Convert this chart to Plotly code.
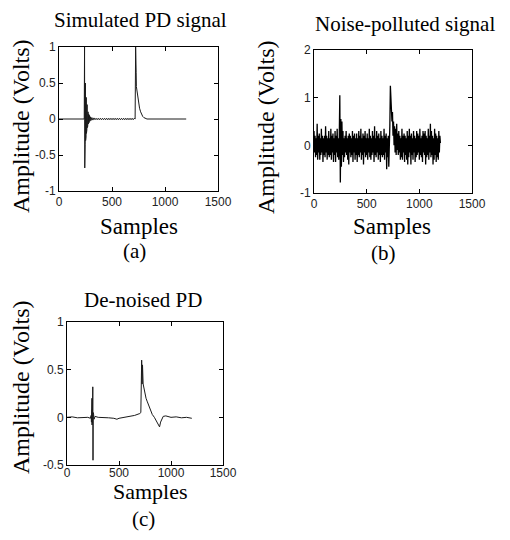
import plotly.graph_objects as go

# ---------------- data ----------------
ticks_x = [0, 500, 1000, 1500]
ticks_a = [-1, -0.5, 0, 0.5, 1]
ticks_b = [-1, 0, 1, 2]
ticks_c = [-0.5, 0, 0.5, 1]

sim_x = [0, 238, 241, 243, 245, 247, 249, 251, 253, 255, 257, 259, 261, 263, 265,
         267, 269, 271, 274, 277, 280, 284, 288, 292, 297, 302, 310, 320, 330,
         340, 350, 360, 370, 380, 390, 400, 410, 420, 430, 440, 450, 460, 470,
         480, 490, 500, 510, 520, 530, 540, 550, 560, 570, 580, 590, 600, 610,
         620, 630, 640, 650, 660, 670, 680, 690, 700, 710, 718,
         723, 726, 728, 730, 735, 740, 745, 750, 760, 770, 780, 790, 800, 815, 830, 1200]
sim_y = [0, 0, 1.0, -0.68, 0.55, -0.35, 0.5, -0.3, 0.4, -0.25, 0.3, -0.2, 0.25, -0.15, 0.2,
         -0.12, 0.15, -0.1, 0.1, -0.07, 0.07, -0.05, 0.05, -0.03, 0.03, -0.02, 0.02, -0.015, 0.015,
         -0.01, 0.01, -0.01, 0.01, -0.01, 0.01, -0.01, 0.01, -0.01, 0.01, -0.01, 0.01, -0.01, 0.01,
         -0.01, 0.01, -0.01, 0.01, -0.01, 0.01, -0.01, 0.01, -0.01, 0.01, -0.01, 0.01, -0.01, 0.01,
         -0.01, 0.01, -0.01, 0.01, -0.01, 0.01, -0.01, 0.01, -0.01, 0.01, 0,
         1.0, 0.5, 0.65, 0.45, 0.4, 0.33, 0.27, 0.22, 0.15, 0.1, 0.06, 0.035, 0.02, 0.01, 0, 0]

noisy_x = list(range(0, 1205, 5))
noisy_y = [
    0.3, -0.15, 0.2, -0.25, 0.15, -0.2, 0.45, -0.3, 0.2, -0.15,
    0.25, -0.3, 0.15, -0.2, 0.35, -0.15, 0.2, -0.35, 0.15, -0.2,
    0.2, -0.25, 0.4, -0.15, 0.2, -0.3, 0.15, -0.2, 0.3, -0.25,
    0.15, -0.2, 0.35, -0.3, 0.2, -0.15, 0.25, -0.35, 0.15, -0.2,
    0.3, -0.35, 0.2, -0.15, 0.35, -0.25, 0.15, -0.3, 0.2, 1.05,
    -0.78, 0.55, -0.45, 0.5, -0.2, 0.3, -0.35, 0.15, -0.25, 0.2,
    -0.15, 0.3, -0.2, 0.15, -0.3, 0.2, -0.4, 0.25, -0.15, 0.2,
    -0.25, 0.15, -0.2, 0.3, -0.35, 0.2, -0.15, 0.25, -0.3, 0.15,
    -0.2, 0.25, -0.35, 0.15, -0.2, 0.3, -0.25, 0.2, -0.15, 0.35,
    -0.3, 0.15, -0.2, 0.25, -0.4, 0.2, -0.15, 0.3, -0.25, 0.15,
    -0.2, 0.25, -0.3, 0.15, -0.15, 0.35, -0.25, 0.2, -0.3, 0.15,
    -0.2, 0.3, -0.15, 0.2, -0.35, 0.4, -0.2, 0.15, -0.25, 0.3,
    -0.15, 0.2, -0.3, 0.25, -0.2, 0.15, -0.35, 0.3, -0.2, 0.2,
    -0.25, 0.15, -0.2, 0.35, -0.3, 0.2, -0.15, 0.25, -0.5, 0.15,
    -0.25, 0.2, -0.45, -0.1, 0.4, 1.25, 0.8, 0.95, 0.5, 0.7,
    0.2, 0.5, 0.0, 0.4, -0.15, 0.35, -0.2, 0.45, -0.1, 0.25,
    -0.2, 0.3, -0.15, 0.2, -0.3, 0.15, -0.25, 0.35, -0.3, 0.2,
    -0.15, 0.25, -0.35, 0.2, -0.2, 0.15, -0.3, 0.3, -0.4, 0.2,
    -0.25, 0.35, -0.15, 0.2, -0.4, 0.25, -0.2, 0.15, -0.3, 0.3,
    -0.15, 0.2, -0.35, 0.15, -0.25, 0.3, -0.2, 0.25, -0.15, 0.2,
    -0.3, 0.35, -0.2, 0.15, -0.25, 0.2, -0.35, 0.3, -0.15, 0.25,
    -0.2, 0.3, -0.4, 0.2, -0.25, 0.15, -0.2, 0.35, -0.3, 0.2,
    -0.15, 0.45, -0.25, 0.3, -0.2, 0.2, -0.4, 0.15, -0.3, 0.35,
    -0.2, 0.25, -0.35, 0.2, -0.25, 0.15, -0.3, 0.3, -0.15, 0.2,
    0.05,
]

den_x = [0, 50, 100, 150, 200, 225, 232, 235, 237, 239, 240, 241, 243, 245, 247, 248,
         250, 252, 254, 256, 260, 270, 300, 350, 400, 450, 480, 500, 550, 600, 650,
         700, 710, 718, 722, 726, 732, 740, 750, 760, 770, 780, 790, 800, 820, 840,
         860, 880, 890, 900, 910, 925, 950, 1000, 1050, 1100, 1150, 1200]
den_y = [0, 0.005, -0.005, 0.0, 0.0, -0.01, 0.02, -0.05, 0.1, -0.06, 0.2, -0.08, 0.08, -0.06, 0.05, 0.32,
         -0.45, 0.05, -0.04, 0.03, -0.02, 0.01, 0.0, 0.0, -0.005, -0.01, -0.02, -0.01, 0.0, 0.01, 0.02,
         0.04, 0.05, 0.6, 0.35, 0.55, 0.35, 0.3, 0.25, 0.2, 0.17, 0.14, 0.1, 0.07, 0.03, 0.0,
         -0.04, -0.08, -0.1, -0.05, -0.02, 0.01, 0.015, 0.0, 0.005, -0.005, 0.0, -0.01]

# ---------------- figure ----------------
# page body has an 8px margin, so the figure is 8px smaller than the window on each axis
OFF = 8
W, H = 510 - OFF, 540 - OFF
fig = go.Figure()
line = dict(color="#1a1a1a", width=1)
fig.add_trace(go.Scatter(x=sim_x, y=sim_y, mode="lines", line=line, xaxis="x", yaxis="y", showlegend=False))
fig.add_trace(go.Scatter(x=noisy_x, y=noisy_y, mode="lines", line=dict(color="black", width=1.3),
                         xaxis="x2", yaxis="y2", showlegend=False))
fig.add_trace(go.Scatter(x=den_x, y=den_y, mode="lines", line=line, xaxis="x3", yaxis="y3", showlegend=False))

tickfont = dict(family="Liberation Sans", size=12, color="#222")


def ax(domain, rng, tickvals, anchor, standoff=0):
    return dict(domain=domain, range=rng, tickvals=tickvals, ticktext=[f"{v:g}" for v in tickvals],
                showline=True, mirror="ticks", linecolor="black", linewidth=1,
                ticks="inside", ticklen=4, tickcolor="black", showgrid=False, zeroline=False,
                tickfont=tickfont, anchor=anchor, fixedrange=True, automargin=False,
                ticklabelstandoff=standoff)


def px_x(p):
    return (p - OFF) / W


def px_y(p):
    return 1 - (p - OFF) / H


fig.update_layout(
    template="none",
    width=W, height=H, margin=dict(l=0, r=0, t=0, b=0, pad=0),
    paper_bgcolor="white", plot_bgcolor="white",
    xaxis=ax([px_x(59), px_x(218)], [0, 1500], ticks_x, "y"),
    yaxis=ax([px_y(191), px_y(47)], [-1, 1], ticks_a, "x"),
    xaxis2=ax([px_x(314), px_x(472)], [0, 1500], ticks_x, "y2"),
    yaxis2=ax([px_y(193), px_y(50)], [-1, 2], ticks_b, "x2"),
    xaxis3=ax([px_x(67), px_x(223)], [0, 1500], ticks_x, "y3", standoff=-3),
    yaxis3=ax([px_y(465), px_y(322)], [-0.5, 1], ticks_c, "x3"),
)

serif = "Liberation Serif"


def txt(text, x, y, size, angle=0):
    fig.add_annotation(text=text, x=px_x(x), y=px_y(y), xref="paper", yref="paper",
                       xanchor="center", yanchor="middle", showarrow=False, textangle=angle,
                       font=dict(family=serif, size=size, color="black"))


# panel (a)
txt("Simulated PD signal", 140, 20, 21)
txt("Samples", 139, 227, 23)
txt("(a)", 134, 251, 21)
txt("Amplitude (Volts)", 21, 126, 24, -90)
# panel (b)
txt("Noise-polluted signal", 405, 24, 21)
txt("Samples", 392, 227, 23)
txt("(b)", 383, 253, 21)
txt("Amplitude (Volts)", 266, 127, 24, -90)
# panel (c)
txt("De-noised PD", 143, 300, 21)
txt("Samples", 150, 491, 22)
txt("(c)", 143, 519, 21)
txt("Amplitude (Volts)", 21, 387, 24, -90)

fig.write_html("out.html")
